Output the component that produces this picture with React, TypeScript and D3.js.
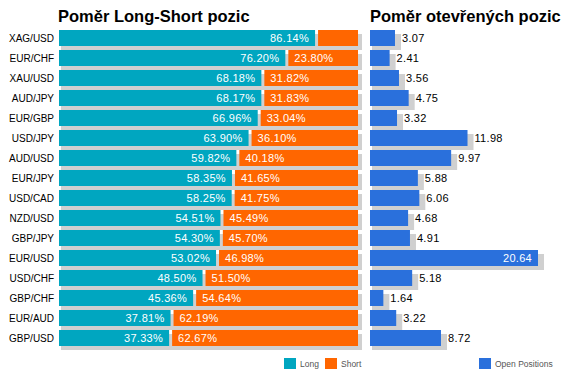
import React from "react";
import * as d3 from "d3";

const pairs = ["XAG/USD","EUR/CHF","XAU/USD","AUD/JPY","EUR/GBP","USD/JPY","AUD/USD","EUR/JPY","USD/CAD","NZD/USD","GBP/JPY","EUR/USD","USD/CHF","GBP/CHF","EUR/AUD","GBP/USD"];
const longPct = [86.14,76.20,68.18,68.17,66.96,63.90,59.82,58.35,58.25,54.51,54.30,53.02,48.50,45.36,37.81,37.33];
const shortPct = [13.86,23.80,31.82,31.83,33.04,36.10,40.18,41.65,41.75,45.49,45.70,46.98,51.50,54.64,62.19,62.67];
const openPos = [3.07,2.41,3.56,4.75,3.32,11.98,9.97,5.88,6.06,4.68,4.91,20.64,5.18,1.64,3.22,8.72];
const titles = ["Poměr Long-Short pozic", "Poměr otevřených pozic"];
const legendLabels = ["Long", "Short", "Open Positions"];

const W = 567, H = 380;
const TEAL = "#00a6c0", ORANGE = "#ff6600", BLUE = "#2a70dc", SHADOW = "#d0d0d0";
const FONT = "Arial, 'Liberation Sans', sans-serif";

export default function App() {
  const y = d3.scaleBand<string>().domain(pairs).range([28, 348]).paddingInner(0.2).paddingOuter(0.1);
  const bh = y.bandwidth();
  const xL = d3.scaleLinear().domain([0, 100]).range([59, 358]);
  const xR = d3.scaleLinear().domain([0, d3.max(openPos) as number]).range([370, 538]);
  const gap = 1.5;

  return (
    <svg width={W} height={H} style={{ position: "absolute", left: 0, top: 0, background: "#fff" }} fontFamily={FONT}>
      <text x={58} y={22} fontSize={16.5} fontWeight="bold" fill="#000">{titles[0]}</text>
      <text x={370} y={22} fontSize={16.5} fontWeight="bold" fill="#000">{titles[1]}</text>
      {pairs.map((p, i) => {
        const y0 = y(p) as number;
        const xs = xL(longPct[i]);
        const lw = xs - gap - xL(0);
        const sx = xs + gap;
        const sw = xL(100) - sx;
        const ow = xR(openPos[i]) - xR(0);
        const longLabel = longPct[i].toFixed(2) + "%";
        const shortLabel = shortPct[i].toFixed(2) + "%";
        const openLabel = openPos[i].toFixed(2);
        const openInside = xR(openPos[i]) + 40 > W;
        return (
          <g key={p}>
            <text x={54} y={y0 + bh / 2 + 3.5} fontSize={10} textAnchor="end" fill="#000">{p}</text>
            <rect x={xL(0) + 2} y={y0 + 4} width={xL(100) - xL(0) + 2} height={bh} fill={SHADOW} />
            <rect x={xL(0)} y={y0} width={lw} height={bh} fill={TEAL} />
            <rect x={sx} y={y0} width={sw} height={bh} fill={ORANGE} />
            {lw > 50 && (
              <text x={xL(0) + lw - 6} y={y0 + bh / 2 + 4} fontSize={11} letterSpacing={0.3} textAnchor="end" fill="#fff">{longLabel}</text>
            )}
            {sw > 50 && (
              <text x={sx + 6} y={y0 + bh / 2 + 4} fontSize={11} letterSpacing={0.3} fill="#fff">{shortLabel}</text>
            )}
            <rect x={xR(0) + 2} y={y0 + 4} width={ow + 4} height={bh} fill={SHADOW} />
            <rect x={xR(0)} y={y0} width={ow} height={bh} fill={BLUE} />
            {openInside ? (
              <text x={xR(openPos[i]) - 6} y={y0 + bh / 2 + 4} fontSize={11} letterSpacing={0.3} textAnchor="end" fill="#fff">{openLabel}</text>
            ) : (
              <text x={xR(openPos[i]) + 7} y={y0 + bh / 2 + 4} fontSize={11} letterSpacing={0.3} fill="#000">{openLabel}</text>
            )}
          </g>
        );
      })}
      <rect x={284} y={358} width={12} height={11} fill={TEAL} />
      <text x={300} y={367} fontSize={8.5} fill="#555">{legendLabels[0]}</text>
      <rect x={325} y={358} width={12} height={11} fill={ORANGE} />
      <text x={341} y={367} fontSize={8.5} fill="#555">{legendLabels[1]}</text>
      <rect x={479} y={358} width={12} height={11} fill={BLUE} />
      <text x={495} y={367} fontSize={8.5} fill="#555">{legendLabels[2]}</text>
    </svg>
  );
}
